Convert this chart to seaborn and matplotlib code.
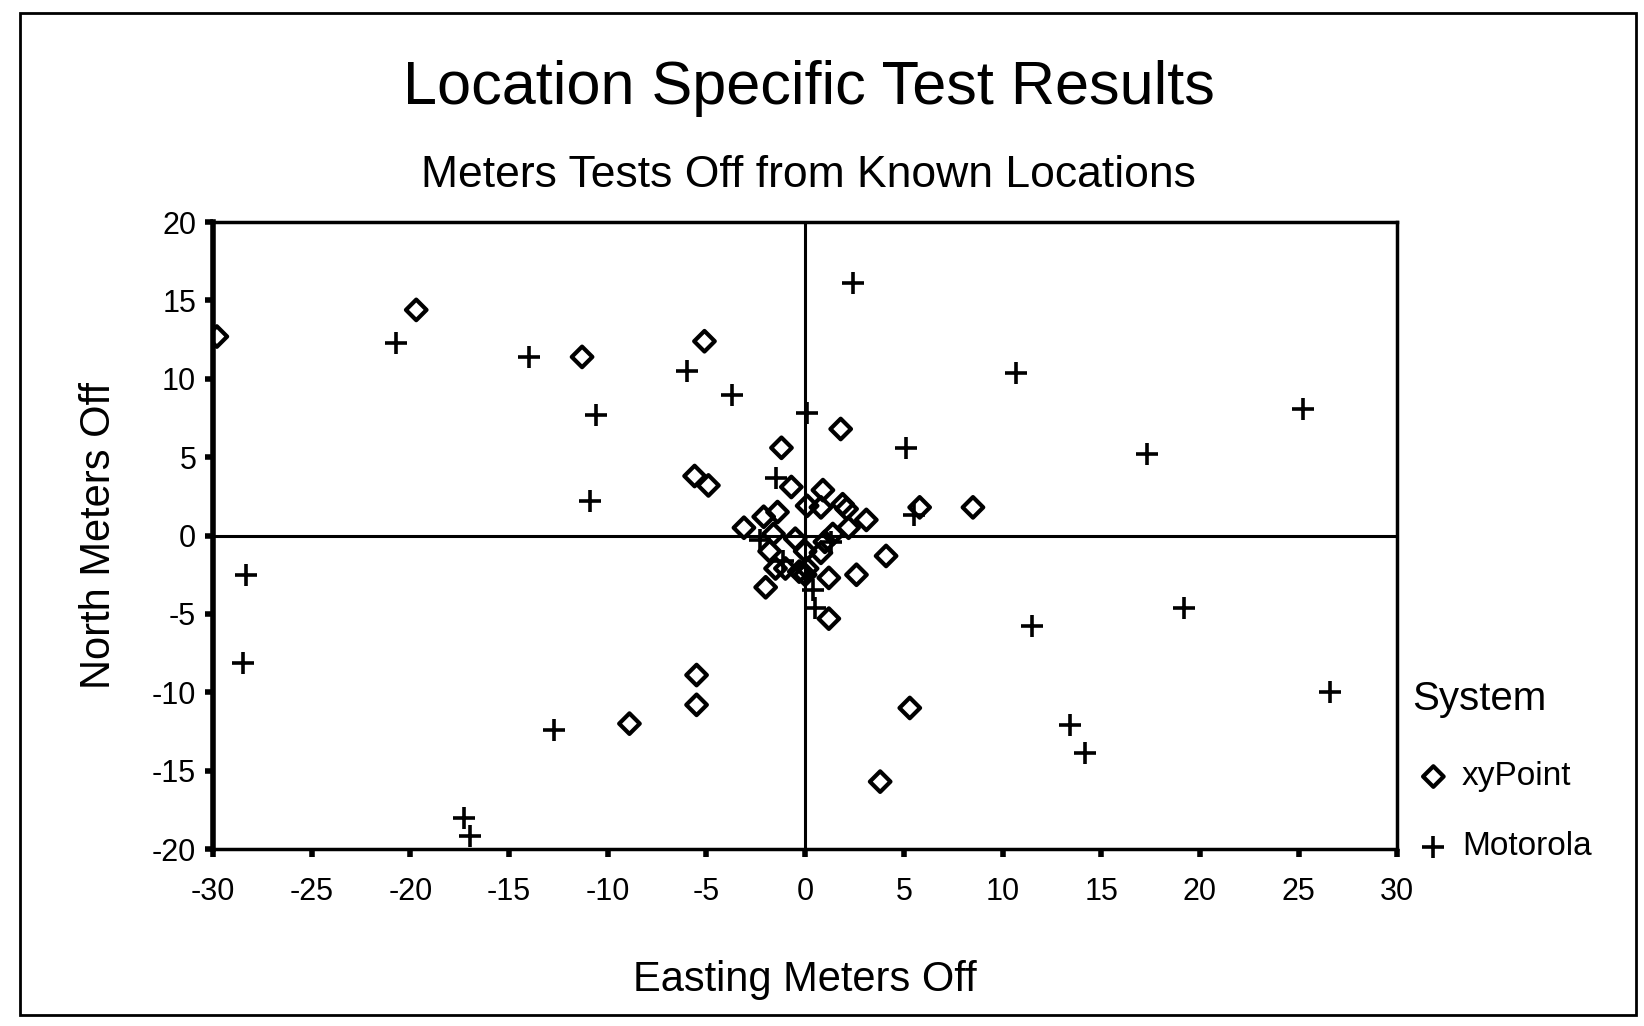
import matplotlib
matplotlib.use('Agg')
import matplotlib.pyplot as plt
import seaborn as sns
import pandas as pd
from matplotlib.patches import Rectangle

# Valores (metros de error este / norte)
xy_este = [-29.8, -19.7, -11.3, -5.1, -5.5, -5.5, -8.9, 3.8, 5.3, 8.5,
           -5.6, -4.9, -1.2, 1.8, -0.7, 0.9, 0.1, 0.8, 1.9, 2.1,
           3.1, -1.4, -2.1, -3.1, 2.2, 5.8, -1.6, -0.5, 1.4, 1.0,
           -1.8, 0.0, 0.8, 4.1, -1.5, -1.0, -0.3, 0.1, 0.0, 1.2,
           2.6, -2.0, 1.2]
xy_norte = [12.7, 14.4, 11.4, 12.4, -8.9, -10.8, -12.0, -15.7, -11.0, 1.8,
            3.8, 3.2, 5.6, 6.8, 3.1, 2.9, 1.9, 1.8, 2.0, 1.7,
            1.0, 1.5, 1.2, 0.5, 0.5, 1.8, 0.1, -0.2, 0.1, -0.4,
            -1.0, -1.0, -1.1, -1.3, -2.1, -2.1, -2.3, -2.1, -2.5, -2.7,
            -2.5, -3.3, -5.3]

mot_este = [-20.7, -14.0, -10.6, -10.9, -6.0, -3.7, 2.4, 5.1, 10.7, 17.3,
            25.2, 19.2, 11.5, 13.4, 14.2, 26.6, -28.3, -28.5, -12.7, -17.3,
            -17.0, 0.4, 0.5, 5.5, -1.5, -2.3, -1.1, 1.3, 0.1]
mot_norte = [12.3, 11.4, 7.7, 2.2, 10.5, 9.0, 16.1, 5.6, 10.4, 5.2,
             8.1, -4.6, -5.8, -12.1, -13.9, -10.0, -2.5, -8.1, -12.4, -18.0,
             -19.2, -3.5, -4.6, 1.3, 3.7, -0.3, -1.6, -0.4, 7.8]

ticks_x = [-30, -25, -20, -15, -10, -5, 0, 5, 10, 15, 20, 25, 30]
ticks_y = [-20, -15, -10, -5, 0, 5, 10, 15, 20]

df_xy = pd.DataFrame({'Este': xy_este, 'Norte': xy_norte})
df_mot = pd.DataFrame({'Este': mot_este, 'Norte': mot_norte})

sns.set_style('white')
plt.rcParams['font.family'] = ['Liberation Sans', 'DejaVu Sans']
plt.rcParams['text.color'] = 'black'
plt.rcParams['axes.labelcolor'] = 'black'
plt.rcParams['xtick.color'] = 'black'
plt.rcParams['ytick.color'] = 'black'

fig = plt.figure(figsize=(16.44, 10.26), dpi=100)
ax = fig.add_axes([0.1295, 0.1725, 0.7205, 0.611])

# Lineas de cero
ax.axhline(0, color='black', lw=2.2, zorder=1)
ax.axvline(0, color='black', lw=2.2, zorder=1)

sns.scatterplot(data=df_xy, x='Este', y='Norte', marker='D', s=110,
                facecolors='none', edgecolors='black', linewidths=3,
                label='xyPoint', ax=ax, zorder=3)
sns.scatterplot(data=df_mot, x='Este', y='Norte', marker='+', s=260,
                color='black', linewidths=2.6, label='Motorola', ax=ax, zorder=3)

ax.set_xlim(-30, 30)
ax.set_ylim(-20, 20)
ax.set_xticks(ticks_x)
ax.set_xticklabels([str(t) for t in ticks_x], fontsize=22)
ax.set_yticks(ticks_y)
ax.set_yticklabels([str(t) for t in ticks_y], fontsize=22)
ax.tick_params(axis='both', direction='out', length=6, width=4, color='black',
               left=True, bottom=True)
ax.tick_params(axis='x', pad=14)
ax.tick_params(axis='y', pad=6)

for lado in ['top', 'right', 'bottom']:
    ax.spines[lado].set_linewidth(2.5)
    ax.spines[lado].set_color('black')
ax.spines['left'].set_linewidth(4)
ax.spines['left'].set_color('black')

ax.set_xlabel('Easting Meters Off', fontsize=30, labelpad=38)
ax.set_ylabel('North Meters Off', fontsize=30, labelpad=24)

fig.text(0.492, 0.914, 'Location Specific Test Results', fontsize=44,
         ha='center', va='center')
fig.text(0.492, 0.829, 'Meters Tests Off from Known Locations', fontsize=32,
         ha='center', va='center')

leg = ax.legend(title='System', loc='upper left', bbox_to_anchor=(0.859, 0.337),
                bbox_transform=fig.transFigure, frameon=False, fontsize=24,
                title_fontsize=29, alignment='left', labelspacing=1.17,
                handlelength=1.27, handletextpad=0.22, borderpad=0,
                borderaxespad=0)
leg._legend_box.sep = 31

# Marco de la pagina
fig.patches.append(Rectangle((0.012, 0.011), 0.983, 0.976, transform=fig.transFigure,
                             fill=False, edgecolor='black', lw=2))

plt.savefig('out.png', dpi=100)
